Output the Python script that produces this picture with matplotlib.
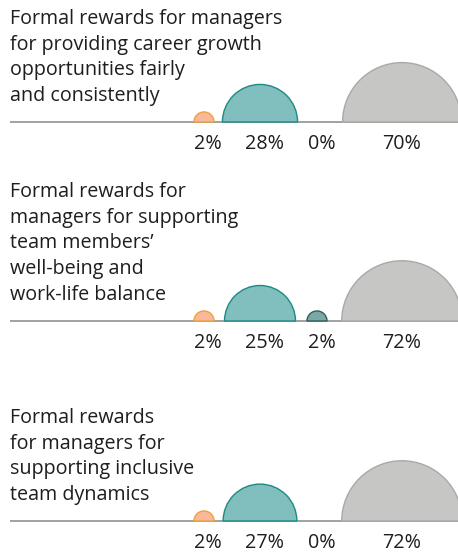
import numpy as np
import matplotlib
matplotlib.use("Agg")
import matplotlib.pyplot as plt
from matplotlib.patches import Wedge

# data
titles = [
    "Formal rewards for managers\nfor providing career growth\nopportunities fairly\nand consistently",
    "Formal rewards for\nmanagers for supporting\nteam members’\nwell-being and\nwork-life balance",
    "Formal rewards\nfor managers for\nsupporting inclusive\nteam dynamics",
]
row1 = [2, 28, 0, 70]
row2 = [2, 25, 2, 72]
row3 = [2, 27, 0, 72]
rows = [row1, row2, row3]

# layout (pixel coords)
centers_x = [204, 260, 317, 402]
labels_x = [208, 265, 322, 402]
baselines = [122, 321, 521]
title_tops = [9, 182, 408]
scale = 7.1

fills = ["#F9B89B", "#80BFBD", "#7AA8A5", "#C6C6C5"]
edges = ["#F0A23C", "#1E8A84", "#2B625F", "#A9A9A9"]

plt.rcParams['font.family'] = ['Open Sans', 'DejaVu Sans']

fig = plt.figure(figsize=(4.58, 5.56), dpi=100)
ax = fig.add_axes([0, 0, 1, 1])
ax.set_xlim(0, 458)
ax.set_ylim(556, 0)
ax.axis('off')

for i, vals in enumerate(rows):
    yb = baselines[i]
    ax.plot([10, 458], [yb, yb], color="#9A9A9A", lw=1.3, zorder=1,
            solid_capstyle='butt')
    for j, v in enumerate(vals):
        if v > 0:
            r = scale * np.sqrt(v)
            w = Wedge((centers_x[j], yb), r, 180, 360, facecolor=fills[j],
                      edgecolor=edges[j], lw=1.0, zorder=2)
            ax.add_patch(w)
        ax.text(labels_x[j], yb + 22, "%d%%" % v, ha='center', va='center',
                fontsize=14.2, color="#1E1E1E")
    ax.text(10, title_tops[i], titles[i], ha='left', va='top',
            fontsize=14.2, color="#1E1E1E", linespacing=1.38)

fig.savefig("out.png", dpi=100)
